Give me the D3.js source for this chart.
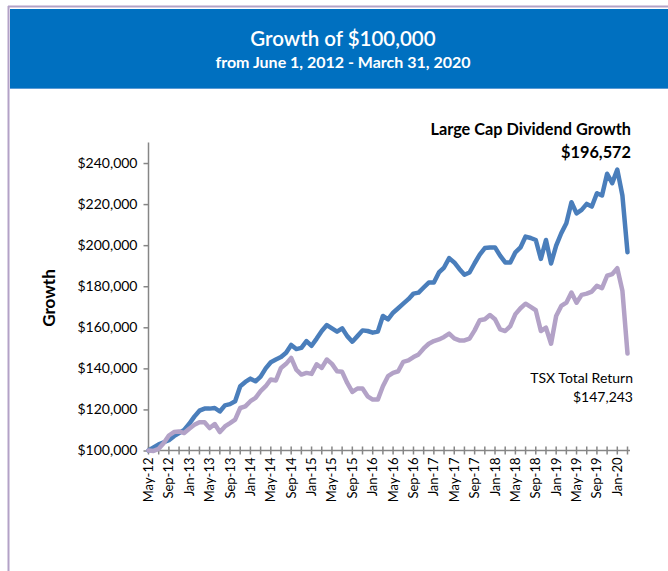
<!DOCTYPE html>
<html><head><meta charset="utf-8">
<script src="https://cdn.jsdelivr.net/npm/d3@7"></script>
<style>
html,body{margin:0;padding:0;background:#fff;}
svg{display:block;font-family:Lato,"Open Sans",sans-serif;}
</style></head>
<body>
<svg id="chart" width="668" height="571"></svg>
<script>
const titleText = "Growth of $100,000";
const subtitleText = "from June 1, 2012 - March 31, 2020";
const startMonth = new Date(2012, 4, 1);
const tickLabels = ["May-12","Sep-12","Jan-13","May-13","Sep-13","Jan-14","May-14","Sep-14","Jan-15","May-15","Sep-15","Jan-16","May-16","Sep-16","Jan-17","May-17","Sep-17","Jan-18","May-18","Sep-18","Jan-19","May-19","Sep-19","Jan-20"];
const yTicks = [100000,120000,140000,160000,180000,200000,220000,240000];
const largeCapValues = [100000,101500,103000,104000,105000,107000,108500,110000,113000,116500,119400,120400,120400,120700,119000,122000,122600,124000,131300,133400,135000,133700,136000,140000,143000,144300,145500,147600,151400,149400,150000,153300,151000,154500,158200,161100,159500,157900,159500,155700,153000,155700,158500,158200,157400,157900,165500,163900,167100,169300,171500,173700,176400,176900,179400,181800,181800,186700,189100,193700,191600,188400,185600,186700,191200,195400,198600,198900,198900,194900,191600,191600,196500,198900,204200,203500,202500,193300,202500,191100,199800,205800,210700,220900,215500,217200,220100,218800,225300,224200,234800,230200,236800,224200,196572];
const tsxValues = [100000,99800,100800,103600,107300,109000,109300,108500,110600,112500,113800,113800,110900,112900,109000,111700,113300,115000,120700,121500,124000,125600,128900,131300,134600,134100,140200,142200,145100,139400,137000,137800,137300,142000,140200,144300,142200,138600,138300,132900,128500,130200,130200,126400,124800,124800,131300,136200,137800,138600,143200,143900,145500,146800,149700,152000,153300,154100,155300,156900,154600,153600,153600,154500,158500,163400,163900,166000,163900,159000,158200,160600,166400,169300,171500,169900,168300,158200,159800,152000,165500,170400,172000,176900,172000,175800,176400,177400,180200,179100,185100,185900,188800,177800,147243];
const seriesNames = ["Large Cap Dividend Growth","TSX Total Return"];

const months = d3.timeMonth.range(startMonth, d3.timeMonth.offset(startMonth, largeCapValues.length));
const fmtMonth = d3.timeFormat("%b-%y");
const categories = months.map(fmtMonth);

const svg = d3.select("#chart");
const W = 668, H = 571;

// frame
svg.append("line").attr("x1",8).attr("x2",W).attr("y1",6.5).attr("y2",6.5).attr("stroke","#b3a2c7").attr("stroke-width",2);
svg.append("line").attr("x1",8.5).attr("x2",8.5).attr("y1",6).attr("y2",H).attr("stroke","#b3a2c7").attr("stroke-width",2);
svg.append("rect").attr("x",10).attr("y",9).attr("width",W-10).attr("height",79).attr("fill","#0070c0");
svg.append("line").attr("x1",10).attr("x2",W).attr("y1",88.5).attr("y2",88.5).attr("stroke","#5b9bd5").attr("stroke-width",1);

svg.append("text").attr("x",343).attr("y",46).attr("text-anchor","middle").attr("fill","#fff")
  .style("font-size","20.5px").style("font-weight","600").text(titleText);
svg.append("text").attr("x",343).attr("y",68).attr("text-anchor","middle").attr("fill","#fff")
  .style("font-size","16px").style("font-weight","700").text(subtitleText);

const x = d3.scalePoint().domain(categories).range([148.5, 627.5]);
const y = d3.scaleLinear().domain([100000, 250000]).range([450.5, 142.5]);

const axisColor = "#868686";
// y axis
const yAxis = d3.axisLeft(y).tickValues(yTicks).tickSize(5).tickPadding(6)
  .tickFormat(d => "$" + d3.format(",")(d));
const gy = svg.append("g").attr("transform","translate(148.5,0)").call(yAxis);
gy.select(".domain").attr("stroke",axisColor).attr("stroke-width",1.5).attr("d","M0,142.5V450.5");
gy.selectAll(".tick line").attr("stroke",axisColor).attr("stroke-width",1.5);
gy.selectAll(".tick text").attr("fill","#000").style("font-size","14px").style("font-family","Lato,sans-serif");

// x axis
const tickCats = categories.filter((d,i) => i % 2 === 0);
const gx = svg.append("g").attr("transform","translate(0,450.5)");
gx.append("line").attr("x1",148.5).attr("x2",630).attr("y1",0).attr("y2",0).attr("stroke",axisColor).attr("stroke-width",1.5);
gx.selectAll("line.tk").data(tickCats).enter().append("line").attr("class","tk")
  .attr("x1",d=>x(d)).attr("x2",d=>x(d)).attr("y1",-4).attr("y2",4)
  .attr("stroke",axisColor).attr("stroke-width",1.5);
gx.selectAll("text.lbl").data(tickLabels).enter().append("text").attr("class","lbl")
  .attr("transform", d => `translate(${x(d)+4.5},7) rotate(-90)`)
  .attr("text-anchor","end").style("font-size","13px").attr("fill","#000").text(d=>d);

// y label
svg.append("text").attr("transform","translate(55,298) rotate(-90)").attr("text-anchor","middle")
  .style("font-size","17px").style("font-weight","700").attr("fill","#000").text("Growth");

const line = d3.line().x((d,i)=>x(categories[i])).y(d=>y(d)).curve(d3.curveLinear);
svg.append("path").datum(largeCapValues).attr("d",line).attr("fill","none")
  .attr("stroke","#4a7ebb").attr("stroke-width",4.5).attr("stroke-linejoin","round").attr("stroke-linecap","round");
svg.append("path").datum(tsxValues).attr("d",line).attr("fill","none")
  .attr("stroke","#b3a2c7").attr("stroke-width",4.5).attr("stroke-linejoin","round").attr("stroke-linecap","round");

const fmtVal = d => "$" + d3.format(",")(d);
svg.append("text").attr("x",631).attr("y",135).attr("text-anchor","end").style("font-size","16.3px").style("font-weight","700").text(seriesNames[0]);
svg.append("text").attr("x",631).attr("y",158).attr("text-anchor","end").style("font-size","16.3px").style("font-weight","700").text(fmtVal(largeCapValues[largeCapValues.length-1]));
svg.append("text").attr("x",633).attr("y",383).attr("text-anchor","end").style("font-size","14px").text(seriesNames[1]);
svg.append("text").attr("x",633).attr("y",402).attr("text-anchor","end").style("font-size","14px").text(fmtVal(tsxValues[tsxValues.length-1]));
</script>
</body></html>
